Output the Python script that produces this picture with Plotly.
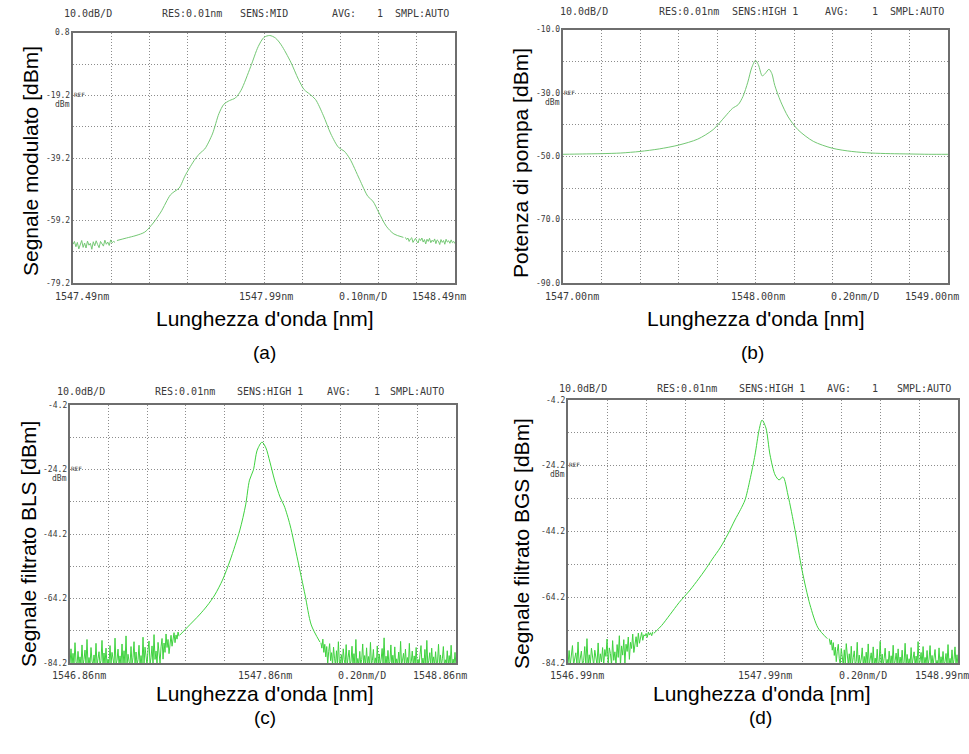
import numpy as np
import plotly.graph_objects as go

# ---------------- (a) Segnale modulato ----------------
a_start, a_center, a_stop = 1547.49, 1547.99, 1548.49
a_top, a_bottom = 0.8, -79.2
a_ylabels = ["0.8", "-19.2", "-39.2", "-59.2", "-79.2"]
a_xlabels = ["1547.49nm", "1547.99nm", "0.10nm/D", "1548.49nm"]
a_noise_left_span = (1547.49, 1547.60)
a_noise_left = [-66.8, -65.9, -67.6, -66.2, -68.3, -66.9, -65.6, -67.8, -66.4, -68.0,
                -65.8, -67.1, -66.5, -68.4, -66.0, -67.3, -65.7, -66.9, -67.9, -65.9,
                -66.6, -67.4, -65.5, -66.8, -66.1, -67.2, -65.4, -66.3, -65.9, -66.2]
a_wl = [1547.605, 1547.63, 1547.655, 1547.678, 1547.70, 1547.72, 1547.745, 1547.757, 1547.768, 1547.785,
        1547.81, 1547.823, 1547.835, 1547.855, 1547.872, 1547.885, 1547.900, 1547.915, 1547.93, 1547.955,
        1547.975, 1547.99, 1548.005, 1548.02, 1548.035, 1548.06, 1548.08, 1548.095, 1548.11, 1548.125,
        1548.145, 1548.165, 1548.185, 1548.20, 1548.215, 1548.24, 1548.262, 1548.275, 1548.29, 1548.31,
        1548.33, 1548.355]
a_dbm = [-65.6, -64.8, -64.0, -62.9, -60.0, -56.5, -51.0, -49.8, -48.8, -44.5,
         -39.5, -37.6, -36.3, -31.5, -25.0, -22.0, -20.8, -20.0, -17.5, -10.0,
         -3.5, -0.6, 0.0, -0.8, -3.0, -8.5, -14.0, -17.3, -18.8, -20.5,
         -25.5, -31.5, -35.8, -37.0, -39.5, -46.0, -51.5, -53.0, -56.5, -61.0,
         -63.5, -64.6]
a_noise_right_span = (1548.36, 1548.49)
a_noise_right = [-64.6, -65.3, -64.8, -65.9, -65.1, -64.7, -66.2, -65.4, -64.9, -65.8,
                 -66.4, -65.0, -65.6, -64.8, -66.1, -65.3, -66.7, -65.2, -65.9, -64.9,
                 -66.3, -65.5, -66.0, -65.1, -66.6, -65.4, -65.8, -66.9, -65.3, -66.2,
                 -65.6, -66.8, -65.2, -66.1, -65.7, -66.5, -65.4, -66.3, -65.9, -66.6]

# ---------------- (b) Potenza di pompa ----------------
b_start, b_center, b_stop = 1547.00, 1548.00, 1549.00
b_top, b_bottom = -10.0, -90.0
b_ylabels = ["-10.0", "-30.0", "-50.0", "-70.0", "-90.0"]
b_xlabels = ["1547.00nm", "1548.00nm", "0.20nm/D", "1549.00nm"]
b_wl = [1547.00, 1547.10, 1547.20, 1547.30, 1547.40, 1547.50, 1547.60, 1547.70, 1547.78, 1547.84,
        1547.88, 1547.91, 1547.935, 1547.96, 1547.98, 1548.00, 1548.015, 1548.035, 1548.05, 1548.07,
        1548.085, 1548.10, 1548.13, 1548.17, 1548.22, 1548.30, 1548.40, 1548.50, 1548.60, 1548.70,
        1548.80, 1548.90, 1549.00]
b_dbm = [-49.3, -49.2, -49.1, -48.9, -48.4, -47.6, -46.4, -44.5, -41.5, -37.5,
         -34.8, -33.6, -31.0, -26.5, -22.0, -19.6, -21.0, -24.5, -23.8, -22.4,
         -23.8, -27.5, -32.5, -37.5, -41.5, -45.2, -47.4, -48.4, -48.9, -49.1,
         -49.2, -49.3, -49.3]

# ---------------- (c) Segnale filtrato BLS ----------------
c_start, c_center, c_stop = 1546.86, 1547.86, 1548.86
c_top, c_bottom = -4.2, -84.2
c_ylabels = ["-4.2", "-24.2", "-44.2", "-64.2", "-84.2"]
c_xlabels = ["1546.86nm", "1547.86nm", "0.20nm/D", "1548.86nm"]
c_noise_left_span = (1546.86, 1547.425)
c_noise_left = [-84.6, -79.8, -84.9, -81.2, -84.7, -77.9, -83.8, -84.9, -80.6, -84.5,
                -82.3, -84.8, -78.6, -84.9, -83.1, -80.2, -84.7, -76.9, -84.8, -82.5,
                -84.9, -79.4, -83.6, -84.8, -81.7, -84.6, -78.1, -84.9, -82.9, -80.7,
                -84.8, -83.4, -77.2, -84.9, -81.1, -84.7, -79.6, -84.8, -83.0, -84.9,
                -78.8, -84.6, -80.9, -82.7, -84.9, -76.5, -84.7, -83.3, -79.9, -84.8,
                -82.0, -84.9, -78.3, -84.6, -80.4, -84.8, -75.8, -84.9, -81.5, -83.7,
                -84.8, -79.1, -84.7, -82.4, -77.6, -84.9, -80.8, -84.6, -83.2, -78.7,
                -84.9, -81.9, -84.7, -76.2, -84.8, -79.3, -83.5, -84.9, -80.1, -77.4,
                -84.6, -82.6, -78.9, -84.8, -75.4, -83.1, -80.5, -84.7, -77.8, -81.6,
                -84.2, -79.2, -76.6, -83.0, -78.0, -80.9, -75.2, -79.4, -76.9, -81.3,
                -77.5, -75.6, -79.0, -76.2, -74.8, -77.9, -75.5, -76.8, -74.6, -75.9]
c_wl = [1547.43, 1547.47, 1547.53, 1547.57, 1547.61, 1547.65, 1547.69, 1547.74, 1547.77, 1547.79,
        1547.81, 1547.83, 1547.855, 1547.875, 1547.896, 1547.92, 1547.948, 1547.97, 1548.00, 1548.04,
        1548.078, 1548.11, 1548.155]
c_dbm = [-75.5, -73.0, -69.3, -66.5, -63.1, -58.5, -52.3, -43.0, -35.2, -27.5,
         -24.4, -18.2, -15.7, -17.5, -21.9, -27.5, -32.7, -35.5, -41.4, -52.3,
         -63.1, -72.4, -77.7]
c_noise_right_span = (1548.16, 1548.86)
c_noise_right = [-77.9, -79.6, -76.8, -80.9, -78.4, -82.3, -79.1, -84.6, -80.7, -78.2,
                 -83.5, -81.0, -84.8, -79.3, -82.7, -84.9, -80.4, -84.6, -77.6, -83.9,
                 -84.8, -81.6, -84.9, -79.8, -83.2, -84.7, -78.5, -84.9, -82.4, -80.2,
                 -84.8, -83.6, -79.0, -84.9, -81.3, -84.6, -76.9, -84.8, -82.8, -84.9,
                 -80.6, -84.7, -83.1, -78.3, -84.9, -81.9, -84.6, -79.5, -84.8, -82.2,
                 -84.9, -77.8, -84.7, -83.4, -80.0, -84.9, -82.6, -84.6, -78.9, -84.8,
                 -81.4, -84.9, -83.0, -79.7, -84.7, -76.4, -84.8, -82.1, -84.9, -80.3,
                 -84.6, -83.7, -78.6, -84.9, -81.8, -84.7, -79.2, -84.8, -82.9, -84.9,
                 -80.8, -84.6, -77.5, -84.9, -83.3, -81.2, -84.7, -79.9, -84.8, -82.5,
                 -84.9, -78.1, -84.6, -83.8, -80.5, -84.9, -82.0, -84.7, -79.4, -84.8,
                 -83.1, -84.9, -81.5, -78.8, -84.6, -82.7, -84.9, -80.0, -84.8, -77.2,
                 -84.7, -83.5, -81.0, -84.9, -79.6, -84.6, -82.3, -84.8, -80.7, -84.9,
                 -83.9, -78.4, -84.7, -81.7, -84.9, -82.9, -79.1, -84.6, -83.2, -84.8,
                 -80.4, -84.9, -81.9, -84.7, -78.7, -84.8, -83.0, -84.6, -80.9, -84.9]

# ---------------- (d) Segnale filtrato BGS ----------------
d_start, d_center, d_stop = 1546.99, 1547.99, 1548.99
d_top, d_bottom = -4.2, -84.2
d_ylabels = ["-4.2", "-24.2", "-44.2", "-64.2", "-84.2"]
d_xlabels = ["1546.99nm", "1547.99nm", "0.20nm/D", "1548.99nm"]
d_noise_left_span = (1546.99, 1547.425)
d_noise_left = [-84.7, -80.4, -84.9, -82.6, -78.9, -84.8, -83.2, -81.1, -84.6, -77.8,
                -84.9, -82.0, -80.6, -84.7, -83.5, -79.2, -84.8, -76.8, -84.9, -81.7,
                -84.6, -79.7, -83.6, -84.9, -80.3, -82.8, -84.7, -78.1, -84.8, -81.4,
                -83.9, -79.5, -84.9, -80.1, -82.2, -76.9, -84.6, -79.6, -81.3, -84.8,
                -77.4, -83.4, -80.8, -84.7, -78.6, -82.5, -75.9, -84.9, -79.0, -81.8,
                -77.1, -84.2, -78.5, -80.7, -76.3, -83.1, -77.9, -79.8, -75.4, -81.0,
                -77.6, -76.2, -79.3, -75.1, -78.2, -76.7, -74.9, -77.3, -75.6, -76.0,
                -75.2, -76.4, -74.8, -75.7, -75.0, -75.9, -74.7]
d_wl = [1547.43, 1547.47, 1547.513, 1547.56, 1547.616, 1547.66, 1547.693, 1547.73, 1547.77, 1547.81,
        1547.846, 1547.875, 1547.898, 1547.923, 1547.949, 1547.97, 1547.985, 1548.005, 1548.026, 1548.052,
        1548.072, 1548.093, 1548.118, 1548.154, 1548.19, 1548.231, 1548.272, 1548.32]
d_dbm = [-75.2, -72.8, -69.5, -65.8, -62.0, -58.6, -55.9, -52.6, -49.2, -45.0,
         -40.7, -37.5, -34.6, -28.5, -20.9, -13.3, -10.3, -12.7, -20.9, -27.0,
         -28.5, -27.6, -33.1, -43.7, -55.9, -66.5, -73.5, -76.8]
d_noise_right_span = (1548.33, 1548.99)
d_noise_right = [-76.8, -78.6, -77.2, -80.3, -78.0, -81.9, -79.4, -83.8, -80.6, -78.5,
                 -82.9, -84.7, -79.8, -83.3, -84.9, -80.2, -84.6, -78.3, -83.6, -84.8,
                 -81.4, -84.9, -79.1, -84.7, -82.6, -80.5, -84.8, -83.7, -77.9, -84.9,
                 -81.8, -84.6, -83.0, -79.6, -84.8, -82.2, -84.9, -80.9, -84.7, -78.4,
                 -84.8, -83.4, -81.1, -84.9, -79.3, -84.6, -82.7, -84.8, -80.0, -84.9,
                 -83.8, -77.6, -84.7, -81.5, -84.9, -82.8, -79.7, -84.6, -83.1, -84.8,
                 -80.6, -84.9, -82.0, -84.7, -78.8, -84.8, -83.5, -81.2, -84.9, -79.9,
                 -84.6, -82.4, -84.8, -80.3, -84.9, -83.9, -78.2, -84.7, -81.6, -84.9,
                 -82.9, -84.6, -79.5, -84.8, -83.2, -80.8, -84.9, -82.1, -84.7, -77.7,
                 -84.8, -83.6, -81.0, -84.9, -79.2, -84.6, -82.5, -84.8, -80.4, -84.9,
                 -83.0, -78.9, -84.7, -81.9, -84.9, -82.7, -80.1, -84.6, -83.4, -84.8,
                 -79.6, -84.9, -82.3, -84.7, -80.7, -84.8, -83.8, -81.3, -84.9, -78.6,
                 -84.6, -82.8, -84.8, -80.2, -84.9, -83.1, -79.3, -84.7, -81.7, -84.8]

y_titles = ["Segnale modulato [dBm]", "Potenza di pompa [dBm]",
            "Segnale filtrato BLS [dBm]", "Segnale filtrato BGS [dBm]"]
x_title = "Lunghezza d'onda [nm]"
captions = ["(a)", "(b)", "(c)", "(d)"]
sens_modes = ["SENS:MID", "SENS:HIGH 1", "SENS:HIGH 1", "SENS:HIGH 1"]


def grid(span, values):
    return np.linspace(span[0], span[1], len(values))


panels = [
    dict(xr=(a_start, a_stop), center=a_center, yr=(a_bottom, a_top), xdiv=0.1,
         ylabels=a_ylabels, xlabels=a_xlabels, color="#74c874",
         segments=[(grid(a_noise_left_span, a_noise_left), a_noise_left, False),
                   (a_wl, a_dbm, True),
                   (grid(a_noise_right_span, a_noise_right), a_noise_right, False)],
         frame=(73, 455, 33, 283), head_y=13, head_x=[62, 160, 238, 330, 375, 393],
         label_gap=13, ytitle_xy=(30, 161), xtitle_xy=(265, 318), cap_xy=(264, 352)),
    dict(xr=(b_start, b_stop), center=b_center, yr=(b_bottom, b_top), xdiv=0.2,
         ylabels=b_ylabels, xlabels=b_xlabels, color="#74c874",
         segments=[(b_wl, b_dbm, True)],
         frame=(563, 948, 30, 283), head_y=12, head_x=[558, 657, 730, 823, 870, 888],
         label_gap=13, ytitle_xy=(521, 163), xtitle_xy=(756, 318), cap_xy=(752, 352)),
    dict(xr=(c_start, c_stop), center=c_center, yr=(c_bottom, c_top), xdiv=0.2,
         ylabels=c_ylabels, xlabels=c_xlabels, color="#3fd23f",
         segments=[(grid(c_noise_left_span, c_noise_left), c_noise_left, False),
                   (c_wl, c_dbm, True),
                   (grid(c_noise_right_span, c_noise_right), c_noise_right, False)],
         frame=(70, 456, 405, 663), head_y=391, head_x=[55, 153, 235, 325, 372, 388],
         label_gap=12, ytitle_xy=(28, 544), xtitle_xy=(265, 693), cap_xy=(265, 717)),
    dict(xr=(d_start, d_stop), center=d_center, yr=(d_bottom, d_top), xdiv=0.2,
         ylabels=d_ylabels, xlabels=d_xlabels, color="#3fd23f",
         segments=[(grid(d_noise_left_span, d_noise_left), d_noise_left, False),
                   (d_wl, d_dbm, True),
                   (grid(d_noise_right_span, d_noise_right), d_noise_right, False)],
         frame=(568, 958, 400, 663), head_y=389, head_x=[557, 655, 737, 825, 870, 895],
         label_gap=12, ytitle_xy=(521, 544), xtitle_xy=(762, 693), cap_xy=(760, 717)),
]

W, H = 969, 754


def px(x):
    return x / W


def py(y):
    return 1 - y / H


MONO = "DejaVu Sans Mono"
SANS = "Liberation Sans, Arial, sans-serif"
INK = "#3a3a3a"

fig = go.Figure()
annotations = []
layout_axes = {}

for i, p in enumerate(panels, start=1):
    suffix = "" if i == 1 else str(i)
    xa, ya = "x" + suffix, "y" + suffix
    for wl, db, smooth in p["segments"]:
        fig.add_trace(go.Scatter(
            x=list(wl), y=list(db), mode="lines", xaxis=xa, yaxis=ya,
            line=dict(color=p["color"], width=1.0,
                      shape="spline" if smooth else "linear", smoothing=0.8),
            hoverinfo="skip", showlegend=False))

    L, R, T, B = p["frame"]
    frame_style = dict(showline=True, mirror=True, linecolor="#6e6e6e", linewidth=1.5,
                       showgrid=True, gridcolor="#8c8c8c", gridwidth=1, griddash="1px,2px",
                       zeroline=False, showticklabels=False, fixedrange=True)
    layout_axes["xaxis" + suffix] = dict(
        domain=[px(L), px(R)], anchor=ya, range=list(p["xr"]),
        tick0=p["xr"][0], dtick=p["xdiv"], ticks="", **frame_style)
    layout_axes["yaxis" + suffix] = dict(
        domain=[py(B), py(T)], anchor=xa, range=list(p["yr"]),
        tick0=p["yr"][0], dtick=10, ticks="", **frame_style)

    # instrument header line
    head_txt = ["10.0dB/D", "RES:0.01nm", sens_modes[i - 1], "AVG:", "1", "SMPL:AUTO"]
    for hx, t in zip(p["head_x"], head_txt):
        annotations.append(dict(x=px(hx), y=py(p["head_y"]), xref="paper", yref="paper",
                                text=t, showarrow=False, xanchor="left", yanchor="middle",
                                font=dict(family=MONO, size=10, color=INK)))

    # level labels every two divisions
    for k, lab in enumerate(p["ylabels"]):
        yy = T + (B - T) * k / 4
        annotations.append(dict(x=px(L - 1), y=py(yy), xref="paper", yref="paper",
                                text=lab, showarrow=False, xanchor="right", yanchor="middle",
                                font=dict(family=MONO, size=8, color=INK)))
        if k == 1:
            annotations.append(dict(x=px(L - 1), y=py(yy - 1), xref="paper", yref="paper",
                                    text="REF", showarrow=False, xanchor="left",
                                    yanchor="middle",
                                    font=dict(family=MONO, size=6, color=INK)))
            annotations.append(dict(x=px(L - 1), y=py(yy + 9), xref="paper", yref="paper",
                                    text="dBm", showarrow=False, xanchor="right",
                                    yanchor="middle",
                                    font=dict(family=MONO, size=8, color=INK)))

    # wavelength labels under the frame
    ly = py(B + p["label_gap"])
    div = (R - L) / 10
    xl = p["xlabels"]
    annotations += [
        dict(x=px(L - 20), y=ly, text=xl[0], xanchor="left"),
        dict(x=px((L + R) / 2 + 2), y=ly, text=xl[1], xanchor="center"),
        dict(x=px(L + 6.9 * div), y=ly, text=xl[2], xanchor="left"),
        dict(x=px(R + 13), y=ly, text=xl[3], xanchor="right"),
    ]
    for a in annotations[-4:]:
        a.update(xref="paper", yref="paper", showarrow=False, yanchor="middle",
                 font=dict(family=MONO, size=10, color=INK))

    # axis titles and caption
    tx, ty = p["ytitle_xy"]
    annotations.append(dict(x=px(tx), y=py(ty), xref="paper", yref="paper",
                            text=y_titles[i - 1], textangle=-90, showarrow=False,
                            xanchor="center", yanchor="middle",
                            font=dict(family=SANS, size=21, color="black")))
    tx, ty = p["xtitle_xy"]
    annotations.append(dict(x=px(tx), y=py(ty), xref="paper", yref="paper",
                            text=x_title, showarrow=False, xanchor="center",
                            yanchor="middle",
                            font=dict(family=SANS, size=21, color="black")))
    tx, ty = p["cap_xy"]
    annotations.append(dict(x=px(tx), y=py(ty), xref="paper", yref="paper",
                            text=captions[i - 1], showarrow=False, xanchor="center",
                            yanchor="middle",
                            font=dict(family=SANS, size=19, color="black")))

fig.update_layout(
    width=W, height=H, margin=dict(l=0, r=0, t=0, b=0),
    paper_bgcolor="white", plot_bgcolor="white",
    showlegend=False, annotations=annotations, **layout_axes)

fig.write_html("out.html", config={"displayModeBar": False})
